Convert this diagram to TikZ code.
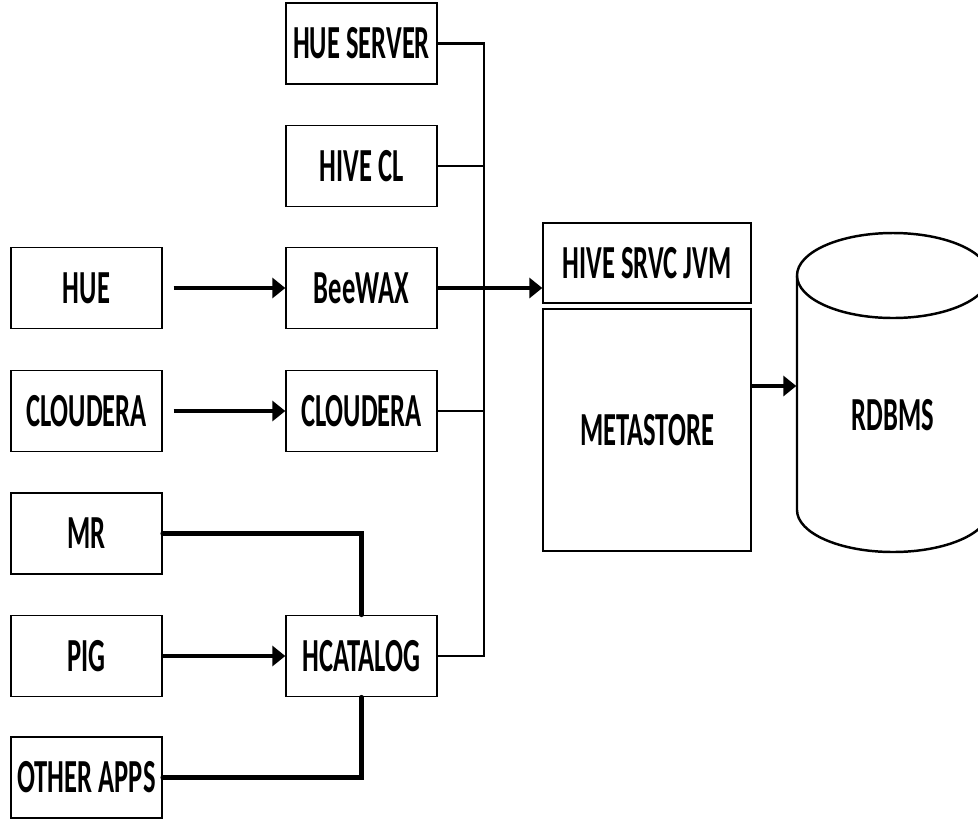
\documentclass[tikz,border=0pt]{standalone}
\usepackage{graphicx}
\usepackage{fontspec}
\setmainfont{Carlito}
\usetikzlibrary{calc,arrows.meta}
\def\squeeze#1{\scalebox{0.56}[1]{#1}}
\tikzset{
	box/.style={draw, line width=0.8pt, minimum width=3.02cm, minimum height=1.62cm, inner sep=0pt, font=\bfseries\fontsize{27}{30}\selectfont},
	bus/.style={line width=1.5pt},
	feed/.style={line width=2.6pt, line cap=round},
	push/.style={line width=2.6pt, -{Triangle[length=0.26cm,width=0.4cm]}}
}

\begin{document}
\begin{tikzpicture}[x=0.02cm, y=0.02cm]
		%%%%% START %%%%%
		\useasboundingbox (0, 0) rectangle (978, -823);
		
		\node[box] (hueserver) at (361.5, -43.5) {\squeeze{HUE SERVER}};
		\node[box] (hivecl) at (361.5, -166) {\squeeze{HIVE CL}};
		\node[box] (beewax) at (361.5, -288) {\squeeze{BeeWAX}};
		\node[box] (clouderab) at (361.5, -411) {\squeeze{CLOUDERA}};
		\node[box] (hcatalog) at (361.5, -656) {\squeeze{HCATALOG}};
		
		\node[box] (hue) at (86.5, -288) {\squeeze{HUE}};
		\node[box] (cloudera) at (86.5, -411) {\squeeze{CLOUDERA}};
		\node[box] (mr) at (86.5, -533.5) {\squeeze{MR}};
		\node[box] (pig) at (86.5, -656) {\squeeze{PIG}};
		\node[box] (otherapps) at (86.5, -777.5) {\squeeze{OTHER APPS}};
		
		\node[box, minimum width=4.16cm, minimum height=1.6cm] (jvm) at (647, -263) {\squeeze{HIVE SRVC JVM}};
		\node[box, minimum width=4.16cm, minimum height=4.84cm] (metastore) at (647, -430) {\squeeze{METASTORE}};
		
		% cylinder
		\draw[line width=1.4pt, fill=white] (797, -275.5) -- (797, -510) arc[start angle=180, end angle=360, x radius=96, y radius=42] -- (989, -275.5);
		\draw[line width=1.4pt] (893, -275.5) ellipse [x radius=96, y radius=42.5];
		\node[box, draw=none, minimum width=3.84cm] (rdbms) at (893, -415) {\squeeze{RDBMS}};
		
		% bus
		\coordinate (bustop) at (484, -43.5);
		\coordinate (busbot) at (484, -656);
		\draw[bus] (hueserver.east) -- (bustop) -- (busbot) -- (hcatalog.east);
		\draw[bus] (hivecl.east) -- (hivecl.east -| bustop);
		\draw[bus] (clouderab.east) -- (clouderab.east -| bustop);
		
		\draw[push] (beewax.east) -- (beewax.east -| jvm.west);
		\coordinate (store) at (751, -386);
		\draw[push] (store) -- (store -| rdbms.west);
		
		\draw[push] ($(hue.east)+(11, 0)$) -- (beewax.west);
		\draw[push] ($(cloudera.east)+(11, 0)$) -- (clouderab.west);
		\draw[push] (pig.east) -- (hcatalog.west);
		
		\draw[feed] (mr.east) -| (hcatalog.north);
		\draw[feed] (otherapps.east) -| (hcatalog.south);
		%%%%% END %%%%%
\end{tikzpicture}
\end{document}
